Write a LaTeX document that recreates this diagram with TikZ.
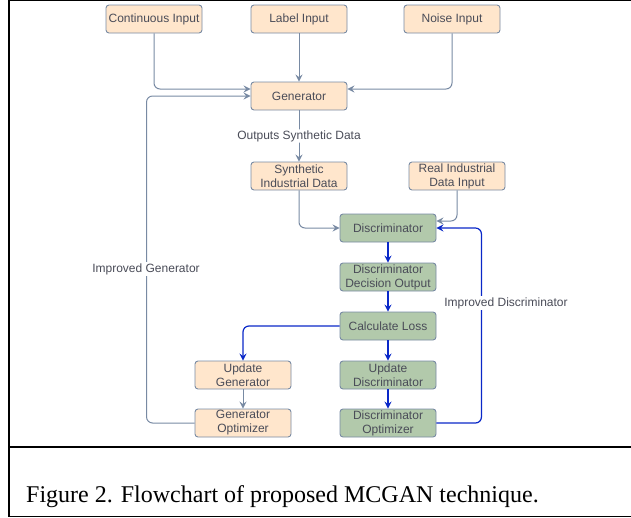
\documentclass[tikz,border=0pt]{standalone}
\usepackage{fontspec}
\setmainfont{Liberation Serif}
\setsansfont{Liberation Sans}
\usetikzlibrary{arrows.meta}
\definecolor{peach}{HTML}{FFE6CC}
\definecolor{sage}{HTML}{B2C9AB}
\definecolor{slate}{HTML}{788AA3}
\definecolor{royal}{HTML}{0A28C8}
\definecolor{ink}{HTML}{4A4C58}

\begin{document}
\begin{tikzpicture}[
    x=1pt, y=-1pt,
    box/.style={rectangle, rounded corners=3pt, draw=slate, line width=0.9pt,
        minimum width=96pt, minimum height=28pt, inner sep=0pt, align=center,
        text=ink, font=\sffamily\fontsize{12}{14}\selectfont},
    gbox/.style={box, fill=peach},
    dbox/.style={box, fill=sage},
    flow/.style={draw=slate, line width=1pt, rounded corners=6pt,
        -{Stealth[length=7pt, width=7pt, inset=2.5pt]}},
    bflow/.style={draw=royal, line width=1.2pt, rounded corners=6pt,
        -{Stealth[length=7pt, width=7pt, inset=2.5pt]}},
    lbl/.style={fill=white, inner sep=1pt, text=ink,
        font=\sffamily\fontsize{12}{14}\selectfont}
]
    \useasboundingbox (0,0) rectangle (631,517);
    \draw[line width=1.2pt] (631,0.6) -- (9,0.6) -- (9,516.4) -- (631,516.4);
    \draw[line width=1.2pt] (9,447) -- (631,447);

    \node[gbox] (cont) at (154,19) {Continuous Input};
    \node[gbox] (lab) at (299,19) {Label Input};
    \node[gbox] (noise) at (452,19) {Noise Input};
    \node[gbox] (gen) at (299,96) {Generator};
    \node[gbox] (synth) at (299,176) {Synthetic\\Industrial Data};
    \node[gbox] (real) at (457,176) {Real Industrial\\Data Input};
    \node[dbox] (disc) at (388,228) {Discriminator};
    \node[dbox] (decis) at (388,277) {Discriminator\\Decision Output};
    \node[dbox] (loss) at (388,326) {Calculate Loss};
    \node[gbox] (upgen) at (243,375) {Update\\Generator};
    \node[dbox] (updisc) at (388,375) {Update\\Discriminator};
    \node[gbox] (genopt) at (243,423) {Generator\\Optimizer};
    \node[dbox] (discopt) at (388,423) {Discriminator\\Optimizer};

    \draw[flow] (cont.south) |- ([yshift=7pt]gen.west);
    \draw[flow] (lab) -- (gen);
    \draw[flow] (noise.south) |- ([yshift=7pt]gen.east);
    \draw[flow] (gen) -- node[lbl] {Outputs Synthetic Data} (synth);
    \draw[flow] (synth.south) |- (disc.west);
    \draw[flow] (real.south) |- ([yshift=7pt]disc.east);
    \draw[bflow] (disc) -- (decis);
    \draw[bflow] (decis) -- (loss);
    \draw[bflow] (loss) -- (updisc);
    \draw[bflow] (updisc) -- (discopt);
    \draw[bflow] (loss.west) -| (upgen.north);
    \draw[flow] (upgen) -- (genopt);
    \draw[flow] (genopt.west) -- ++(-48,0) |- (gen.west);
    \draw[bflow] (discopt.east) -- ++(45,0) |- (disc.east);
    \node[lbl] (impgen) at (146,269) {Improved Generator};
    \node[lbl] (impdisc) at (506,303) {Improved Discriminator};

    \node[anchor=base west, inner sep=0pt, font=\fontsize{24}{28}\selectfont] (cap)
        at (26,502) {Figure 2. Flowchart of proposed MCGAN technique.};
\end{tikzpicture}
\end{document}
